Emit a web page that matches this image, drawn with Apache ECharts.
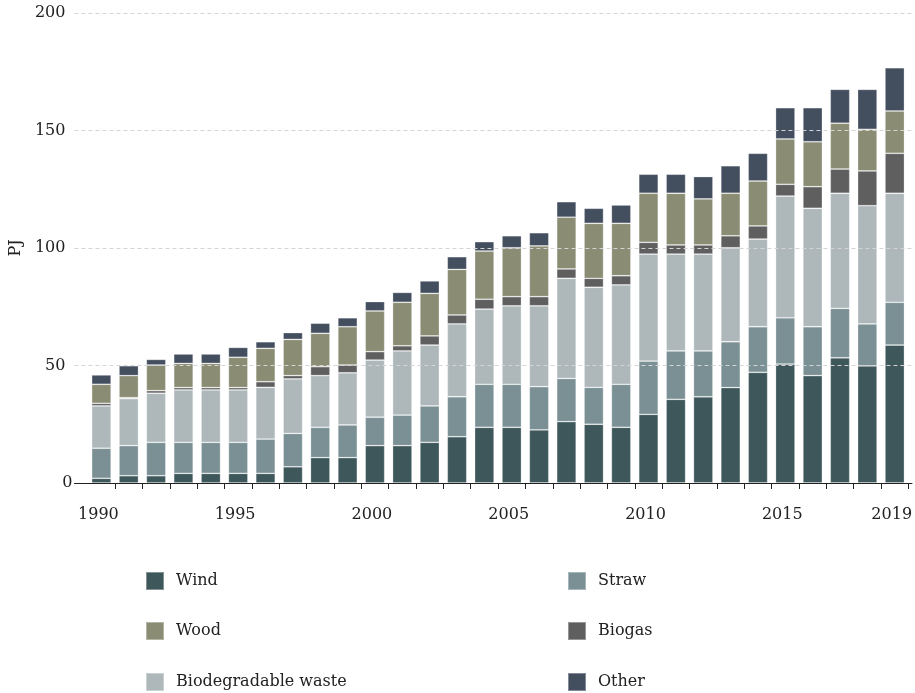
<!DOCTYPE html>
<html>
<head>
<meta charset="utf-8">
<script src="https://cdn.jsdelivr.net/npm/echarts@6/dist/echarts.min.js"></script>
<style>
html,body{margin:0;padding:0;background:#fff;}
#chart{width:915px;height:693px;}
</style>
</head>
<body>
<div id="chart"></div>
<script>
const years = [1990,1991,1992,1993,1994,1995,1996,1997,1998,1999,2000,2001,2002,2003,2004,2005,2006,2007,2008,2009,2010,2011,2012,2013,2014,2015,2016,2017,2018,2019];
const wind   = [2.0,3.1,3.1,4.1,4.1,4.1,4.1,6.9,10.8,10.8,15.9,15.9,17.3,19.7,23.7,23.7,22.6,26.1,25.0,23.7,29.2,35.6,36.7,40.6,47.1,50.6,45.7,53.3,49.8,58.7];
const straw  = [12.8,12.8,14.2,13.2,13.2,13.2,14.6,14.2,12.9,13.9,12.1,13.0,15.5,17.0,18.3,18.3,18.4,18.4,15.7,18.3,22.7,20.6,19.5,19.5,19.4,19.7,20.8,21.0,17.9,18.2];
const biowaste = [18.0,20.0,20.9,22.3,22.3,22.3,22.0,23.2,22.0,22.2,24.3,27.3,25.9,31.0,32.0,33.4,34.4,42.6,42.6,42.3,45.5,41.2,41.2,40.0,37.3,51.8,50.4,49.0,50.3,46.4];
const biogas = [1.1,0.4,1.1,1.0,1.0,1.0,2.4,1.4,3.8,3.3,3.6,2.2,3.9,3.8,4.2,3.9,3.9,4.0,3.8,3.9,5.0,3.9,3.9,5.1,5.6,5.0,9.2,10.3,14.8,17.0];
const wood   = [8.1,9.4,10.9,10.3,10.3,12.9,14.2,15.4,14.2,16.3,17.3,18.5,18.1,19.4,20.5,20.8,21.6,22.0,23.4,22.3,20.9,22.0,19.6,18.1,19.1,19.3,19.1,19.5,17.7,18.0];
const other  = [4.0,4.2,2.4,4.0,4.0,4.2,2.8,2.9,4.3,3.8,4.0,4.2,5.3,5.4,4.0,5.1,5.6,6.6,6.4,7.8,8.1,8.1,9.5,11.7,11.8,13.3,14.5,14.4,17.0,18.4];
const xLabelYears = [1990,1995,2000,2005,2010,2015,2019];
const yTicks = [0,50,100,150,200];

const FONT = 'DejaVu Serif';
const colors = {
  'Wind':'#3e575b', 'Straw':'#7a9094', 'Biodegradable waste':'#aeb8bb',
  'Biogas':'#5f5f5f', 'Wood':'#8a8c73', 'Other':'#434e5f'
};
const seriesDefs = [
  ['Wind', wind], ['Straw', straw], ['Biodegradable waste', biowaste],
  ['Biogas', biogas], ['Wood', wood], ['Other', other]
];
// legend placement: [name, left, top]
const legendPos = [
  ['Wind',145,571], ['Straw',567,571],
  ['Wood',145,621], ['Biogas',567,621],
  ['Biodegradable waste',145,672], ['Other',567,672]
];

const chart = echarts.init(document.getElementById('chart'), null, {renderer:'canvas'});
const GT = 13, GB = 210;
const option = {
  animation:false,
  backgroundColor:'#fff',
  textStyle:{fontFamily:FONT},
  grid:[
    {left:87.7, right:3, top:GT, bottom:GB},
    {left:74, right:3, top:GT, bottom:GB}
  ],
  xAxis:[
    {
      type:'category', gridIndex:0, data:years.map(String), boundaryGap:true,
      axisLine:{show:false},
      axisTick:{show:true, length:6, lineStyle:{color:'#222'},
        interval:(idx)=> idx !== 0},
      axisLabel:{show:true, margin:24, fontFamily:FONT, fontSize:16, color:'#222',
        interval:(idx, val)=> xLabelYears.indexOf(Number(val)) >= 0,
        padding:[0,6,0,0]},
      splitLine:{show:false}
    },
    {
      type:'value', gridIndex:1, min:0, max:1, z:4,
      axisLine:{show:true, onZero:false, lineStyle:{color:'#222', width:1}},
      axisTick:{show:false}, axisLabel:{show:false}, splitLine:{show:false}
    }
  ],
  yAxis:[
    {type:'value', gridIndex:0, min:yTicks[0], max:yTicks[yTicks.length-1], interval:50, show:false},
    {
      type:'value', gridIndex:1, min:yTicks[0], max:yTicks[yTicks.length-1], interval:50, z:3,
      name:'PJ', nameLocation:'middle', nameRotate:90, nameGap:49,
      nameTextStyle:{fontFamily:FONT, fontSize:16, color:'#222'},
      axisLine:{show:false}, axisTick:{show:false},
      axisLabel:{margin:2, fontFamily:FONT, fontSize:16, color:'#222',
        formatter: v => v === 0 ? '{z|0}' : '{n|' + v + '}',
        rich:{
          n:{fontFamily:FONT, fontSize:16, color:'#222', padding:[0,7,0,0]},
          z:{fontFamily:FONT, fontSize:16, color:'#222'}
        }},
      splitLine:{show:true, lineStyle:{type:[4,3], color:'#d4d4d4', width:1}}
    }
  ],
  legend: legendPos.map(([name,l,t]) => ({
    data:[name], left:l, top:t, padding:0,
    itemWidth:18, itemHeight:18, icon:'rect',
    textStyle:{fontFamily:FONT, fontSize:16, color:'#222', padding:[0,0,0,7]}
  })),
  series: seriesDefs.map(([name, arr]) => ({
    name, type:'bar', stack:'total', barWidth:19.5,
    xAxisIndex:0, yAxisIndex:0,
    itemStyle:{color:colors[name], borderColor:'rgba(255,255,255,0.35)', borderWidth:0.8},
    emphasis:{disabled:true},
    data: arr
  }))
};
chart.setOption(option);
</script>
</body>
</html>
